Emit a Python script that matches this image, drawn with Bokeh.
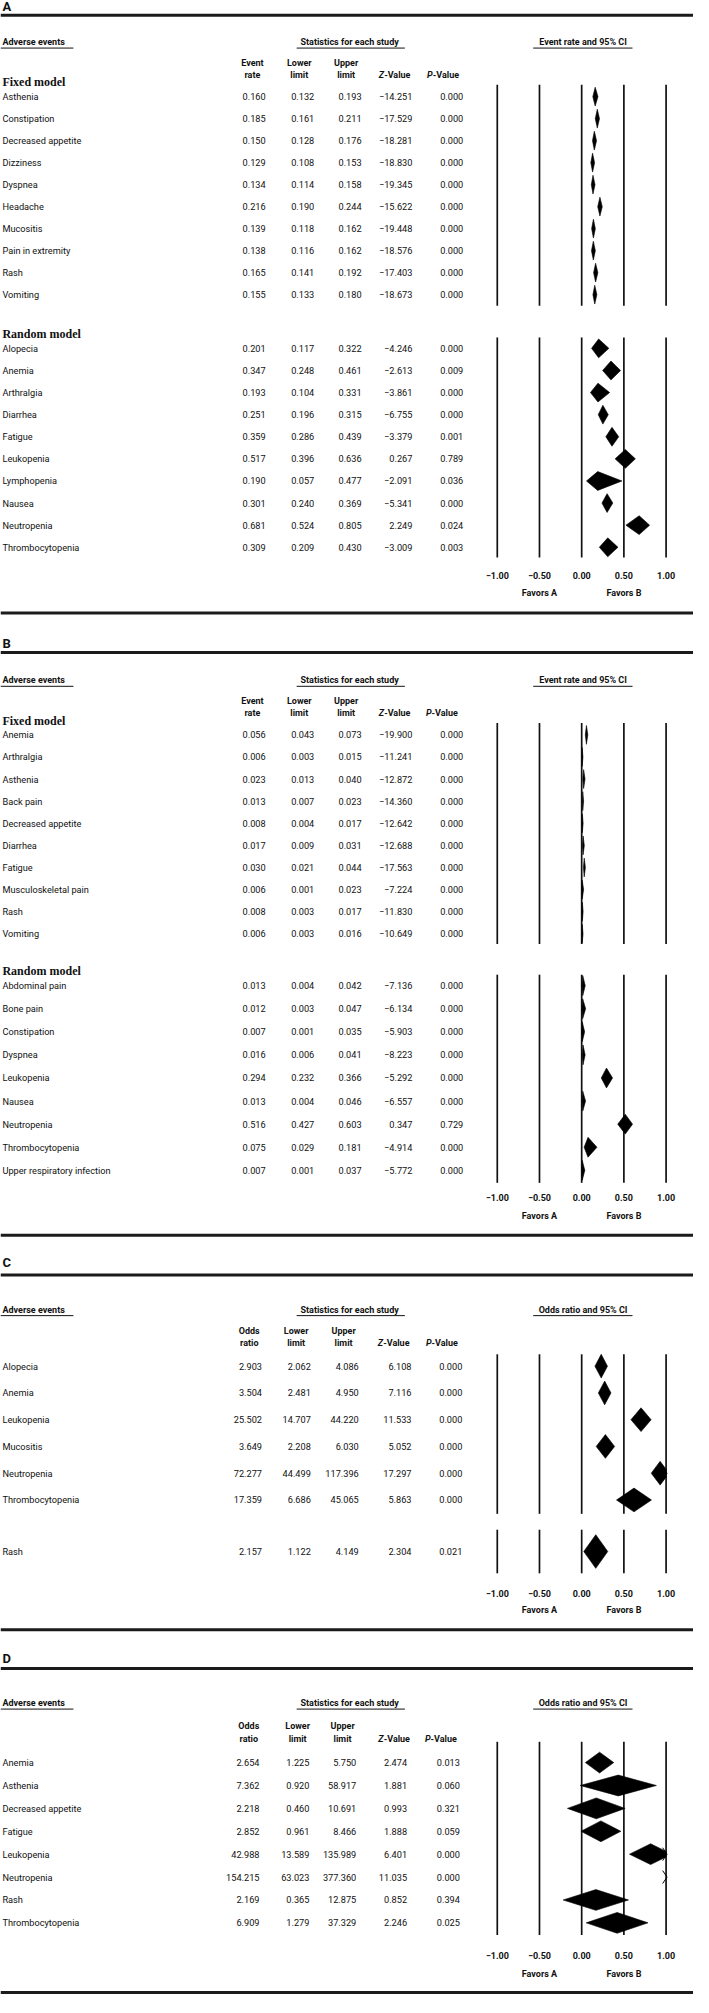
import numpy as np
from bokeh.plotting import figure
from bokeh.models import Range1d
from bokeh.core.properties import value
from bokeh.embed import file_html
from bokeh.resources import INLINE

# ---------------- data ----------------
A_fixed_names = ["Asthenia", "Constipation", "Decreased appetite", "Dizziness", "Dyspnea",
                 "Headache", "Mucositis", "Pain in extremity", "Rash", "Vomiting"]
A_fixed_est = [0.160, 0.185, 0.150, 0.129, 0.134, 0.216, 0.139, 0.138, 0.165, 0.155]
A_fixed_lo = [0.132, 0.161, 0.128, 0.108, 0.114, 0.190, 0.118, 0.116, 0.141, 0.133]
A_fixed_hi = [0.193, 0.211, 0.176, 0.153, 0.158, 0.244, 0.162, 0.162, 0.192, 0.180]
A_fixed_z = [-14.251, -17.529, -18.281, -18.830, -19.345, -15.622, -19.448, -18.576, -17.403, -18.673]
A_fixed_p = [0.000] * 10

A_rand_names = ["Alopecia", "Anemia", "Arthralgia", "Diarrhea", "Fatigue", "Leukopenia",
                "Lymphopenia", "Nausea", "Neutropenia", "Thrombocytopenia"]
A_rand_est = [0.201, 0.347, 0.193, 0.251, 0.359, 0.517, 0.190, 0.301, 0.681, 0.309]
A_rand_lo = [0.117, 0.248, 0.104, 0.196, 0.286, 0.396, 0.057, 0.240, 0.524, 0.209]
A_rand_hi = [0.322, 0.461, 0.331, 0.315, 0.439, 0.636, 0.477, 0.369, 0.805, 0.430]
A_rand_z = [-4.246, -2.613, -3.861, -6.755, -3.379, 0.267, -2.091, -5.341, 2.249, -3.009]
A_rand_p = [0.000, 0.009, 0.000, 0.000, 0.001, 0.789, 0.036, 0.000, 0.024, 0.003]

B_fixed_names = ["Anemia", "Arthralgia", "Asthenia", "Back pain", "Decreased appetite",
                 "Diarrhea", "Fatigue", "Musculoskeletal pain", "Rash", "Vomiting"]
B_fixed_est = [0.056, 0.006, 0.023, 0.013, 0.008, 0.017, 0.030, 0.006, 0.008, 0.006]
B_fixed_lo = [0.043, 0.003, 0.013, 0.007, 0.004, 0.009, 0.021, 0.001, 0.003, 0.003]
B_fixed_hi = [0.073, 0.015, 0.040, 0.023, 0.017, 0.031, 0.044, 0.023, 0.017, 0.016]
B_fixed_z = [-19.900, -11.241, -12.872, -14.360, -12.642, -12.688, -17.563, -7.224, -11.830, -10.649]
B_fixed_p = [0.000] * 10

B_rand_names = ["Abdominal pain", "Bone pain", "Constipation", "Dyspnea", "Leukopenia",
                "Nausea", "Neutropenia", "Thrombocytopenia", "Upper respiratory infection"]
B_rand_est = [0.013, 0.012, 0.007, 0.016, 0.294, 0.013, 0.516, 0.075, 0.007]
B_rand_lo = [0.004, 0.003, 0.001, 0.006, 0.232, 0.004, 0.427, 0.029, 0.001]
B_rand_hi = [0.042, 0.047, 0.035, 0.041, 0.366, 0.046, 0.603, 0.181, 0.037]
B_rand_z = [-7.136, -6.134, -5.903, -8.223, -5.292, -6.557, 0.347, -4.914, -5.772]
B_rand_p = [0.000, 0.000, 0.000, 0.000, 0.000, 0.000, 0.729, 0.000, 0.000]

C_names = ["Alopecia", "Anemia", "Leukopenia", "Mucositis", "Neutropenia", "Thrombocytopenia"]
C_est = [2.903, 3.504, 25.502, 3.649, 72.277, 17.359]
C_lo = [2.062, 2.481, 14.707, 2.208, 44.499, 6.686]
C_hi = [4.086, 4.950, 44.220, 6.030, 117.396, 45.065]
C_z = [6.108, 7.116, 11.533, 5.052, 17.297, 5.863]
C_p = [0.000] * 6

C2_names = ["Rash"]
C2_est = [2.157]
C2_lo = [1.122]
C2_hi = [4.149]
C2_z = [2.304]
C2_p = [0.021]

D_names = ["Anemia", "Asthenia", "Decreased appetite", "Fatigue", "Leukopenia",
           "Neutropenia", "Rash", "Thrombocytopenia"]
D_est = [2.654, 7.362, 2.218, 2.852, 42.988, 154.215, 2.169, 6.909]
D_lo = [1.225, 0.920, 0.460, 0.961, 13.589, 63.023, 0.365, 1.279]
D_hi = [5.750, 58.917, 10.691, 8.466, 135.989, 377.360, 12.875, 37.329]
D_z = [2.474, 1.881, 0.993, 1.888, 6.401, 11.035, 0.852, 2.246]
D_p = [0.013, 0.060, 0.321, 0.059, 0.000, 0.000, 0.394, 0.025]

TICKS = [-1.0, -0.5, 0.0, 0.5, 1.0]
TICK_LABELS = ["\u22121.00", "\u22120.50", "0.00", "0.50", "1.00"]
FAVORS = ["Favors A", "Favors B"]
FAVORS_AT = [-0.5, 0.5]

# ---------------- layout ----------------
W, H = 693, 1995
REF_W, REF_H = 709, 2013
ZERO_PX, UNIT_PX = 594.6, 86.35


def X(px):
    return (px - ZERO_PX) / UNIT_PX


SANS = "Roboto"
SERIF = "Liberation Serif"
INK = "#111111"
FS = 9.2     # table text size
HS = 9       # header text size

p = figure(width=W, height=H, x_range=Range1d(X(0), X(REF_W)), y_range=Range1d(REF_H, 0),
           output_backend="svg", toolbar_location=None, min_border=0,
           x_axis_location=None, y_axis_location=None, outline_line_color=None)
p.grid.visible = False


def txt(xs, ys, texts, size=FS, font=SANS, style="normal", align="left", color=INK):
    n = len(texts)
    xs = xs if isinstance(xs, list) else [xs] * n
    ys = ys if isinstance(ys, list) else [ys] * n
    p.text(x=xs, y=ys, text=texts, text_font=value(font), text_font_size=f"{size}px",
           text_font_style=style, text_align=align, text_baseline="middle", text_color=color)


def hline(px0, px1, y, w=1.0, color=INK):
    p.segment(x0=[X(px0)], x1=[X(px1)], y0=[y], y1=[y], line_width=w, line_color=color)


def fmt(v):
    return f"{v:.3f}".replace("-", "\u2212")


def diamond(lo, est, hi, yc, hh, xmax=1.0):
    if est >= xmax:
        return None
    if hi <= xmax:
        return [lo, est, hi, est], [yc, yc - hh, yc, yc + hh]
    k = hh * (hi - xmax) / (hi - est)
    return [lo, est, xmax, xmax, est], [yc, yc - hh, yc - k, yc + k, yc + hh]


COLS_ABC = [271.3, 321.0, 369.4, 421.4, 473.4]
HCENT_ABC = [257.7, 305.7, 353.6]

PANELS = [
    dict(letter="A", letter_y=6, rule_top=15, head_y=42, colhead=(63, 75), col1=("Event", "rate"),
         ci_title="Event rate and 95% CI", ticks_y=580, favors_y=598, rule_bot=618,
         cols=COLS_ABC, hcent=HCENT_ABC, zj=392.5, pj=442.2, pstr=" -Value",
         groups=[
             dict(title="Fixed model", title_y=82, names=A_fixed_names, est=A_fixed_est, lo=A_fixed_lo,
                  hi=A_fixed_hi, z=A_fixed_z, pv=A_fixed_p, row0=97, step=22.2, top=85, bot=308, hh=9.5, log=False),
             dict(title="Random model", title_y=337, names=A_rand_names, est=A_rand_est, lo=A_rand_lo,
                  hi=A_rand_hi, z=A_rand_z, pv=A_rand_p, row0=351, step=22.3, top=340, bot=562, hh=9.5, log=False),
         ]),
    dict(letter="B", letter_y=649, rule_top=658, head_y=686, colhead=(707, 719), col1=("Event", "rate"),
         ci_title="Event rate and 95% CI", ticks_y=1208, favors_y=1226, rule_bot=1246,
         cols=COLS_ABC, hcent=HCENT_ABC, zj=392.5, pj=441.0, pstr="-Value",
         groups=[
             dict(title="Fixed model", title_y=727, names=B_fixed_names, est=B_fixed_est, lo=B_fixed_lo,
                  hi=B_fixed_hi, z=B_fixed_z, pv=B_fixed_p, row0=741, step=22.3, top=729, bot=952, hh=9.5, log=False),
             dict(title="Random model", title_y=979, names=B_rand_names, est=B_rand_est, lo=B_rand_lo,
                  hi=B_rand_hi, z=B_rand_z, pv=B_rand_p, row0=994, step=23.3, top=983, bot=1193, hh=10, log=False),
         ]),
    dict(letter="C", letter_y=1273, rule_top=1286, head_y=1321, colhead=(1343, 1355), col1=("Odds", "ratio"),
         ci_title="Odds ratio and 95% CI", ticks_y=1607, favors_y=1624, rule_bot=1644,
         cols=[267.5, 317.5, 366.5, 420.5, 472.5], hcent=[254.5, 302.5, 351], zj=391.5, pj=441.0, pstr="-Value",
         groups=[
             dict(title=None, names=C_names, est=C_est, lo=C_lo, hi=C_hi, z=C_z, pv=C_p,
                  row0=1378, step=27.0, top=1366, bot=1527, hh=12, log=True),
             dict(title=None, names=C2_names, est=C2_est, lo=C2_lo, hi=C2_hi, z=C2_z, pv=C2_p,
                  row0=1565, step=27.0, top=1543, bot=1587, hh=17, log=True),
         ]),
    dict(letter="D", letter_y=1673, rule_top=1683, head_y=1718, colhead=(1741, 1754), col1=("Odds", "ratio"),
         ci_title="Odds ratio and 95% CI", ticks_y=1973, favors_y=1991, rule_bot=2010,
         cols=[265, 316, 364, 416, 470], hcent=[254, 304, 350], zj=392, pj=440, pstr="-Value",
         groups=[
             dict(title=None, names=D_names, est=D_est, lo=D_lo, hi=D_hi, z=D_z, pv=D_p,
                  row0=1778, step=23.1, top=1757, bot=1952, hh=10.5, log=True),
         ]),
]

for P in PANELS:
    # panel letter and thick rules
    txt(X(2), P["letter_y"], [P["letter"]], size=13, style="bold")
    hline(0, REF_W, P["rule_top"], w=3, color="#1b1b1b")
    hline(0, REF_W, P["rule_bot"], w=3, color="#1b1b1b")
    # section headers
    hy = P["head_y"]
    txt(X(2), hy, ["Adverse events"], size=HS, style="bold")
    hline(0, 74.6, hy + 6, w=1)
    txt(X(357.2), hy, ["Statistics for each study"], size=HS, style="bold", align="center")
    hline(303, 413.7, hy + 6, w=1)
    txt(X(596), hy, [P["ci_title"]], size=HS, style="bold", align="center")
    hline(545, 646.6, hy + 6, w=1)
    # column headers
    y1, y2 = P["colhead"]
    hc = P["hcent"]
    txt([X(hc[0]), X(hc[1]), X(hc[2])], y1, [P["col1"][0], "Lower", "Upper"], size=HS, style="bold", align="center")
    txt([X(hc[0]), X(hc[1]), X(hc[2])], y2, [P["col1"][1], "limit", "limit"], size=HS, style="bold", align="center")
    txt(X(P["zj"]), y2, ["Z"], size=HS, style="bold italic", align="right")
    txt(X(P["zj"]), y2, ["-Value"], size=HS, style="bold", align="left")
    txt(X(P["pj"]), y2, ["P"], size=HS, style="bold italic", align="right")
    txt(X(P["pj"]), y2, [P["pstr"]], size=HS, style="bold", align="left")

    for G in P["groups"]:
        n = len(G["names"])
        ys = [G["row0"] + i * G["step"] for i in range(n)]
        if G["title"]:
            txt(X(2), G["title_y"], [G["title"]], size=12, font=SERIF, style="bold")
        txt(X(2), ys, G["names"])
        c = P["cols"]
        txt(X(c[0]), ys, [fmt(v) for v in G["est"]], align="right")
        txt(X(c[1]), ys, [fmt(v) for v in G["lo"]], align="right")
        txt(X(c[2]), ys, [fmt(v) for v in G["hi"]], align="right")
        txt(X(c[3]), ys, [fmt(v) for v in G["z"]], align="right")
        txt(X(c[4]), ys, [fmt(v) for v in G["pv"]], align="right")
        # reference lines
        p.segment(x0=TICKS, x1=TICKS, y0=[G["top"]] * 5, y1=[G["bot"]] * 5,
                  line_width=1.7, line_color=INK)
        # diamonds
        tr = (lambda v: np.log10(v) / 2.0) if G["log"] else (lambda v: v)
        dxs, dys, arrows_x, arrows_y = [], [], [], []
        for lo, est, hi, yc in zip(G["lo"], G["est"], G["hi"], ys):
            d = diamond(tr(lo), tr(est), tr(hi), yc, G["hh"])
            if d is not None:
                dxs.append(d[0])
                dys.append(d[1])
            if tr(hi) > 1.0:
                a = 4.5 / UNIT_PX
                tip = 1.0 + 1.0 / UNIT_PX
                arrows_x.append([tip - a, tip, tip - a])
                arrows_y.append([yc - 6.5, yc, yc + 6.5])
        if dxs:
            p.patches(xs=dxs, ys=dys, fill_color="black", line_color="black", line_width=0.6)
        if arrows_x:
            p.multi_line(xs=arrows_x, ys=arrows_y, line_color="black", line_width=1)

    # tick labels and favors
    txt(TICKS, P["ticks_y"], TICK_LABELS, size=HS, style="bold", align="center")
    txt(FAVORS_AT, P["favors_y"], FAVORS, size=HS, style="bold", align="center")

open("out.html", "w").write(file_html(p, INLINE))
